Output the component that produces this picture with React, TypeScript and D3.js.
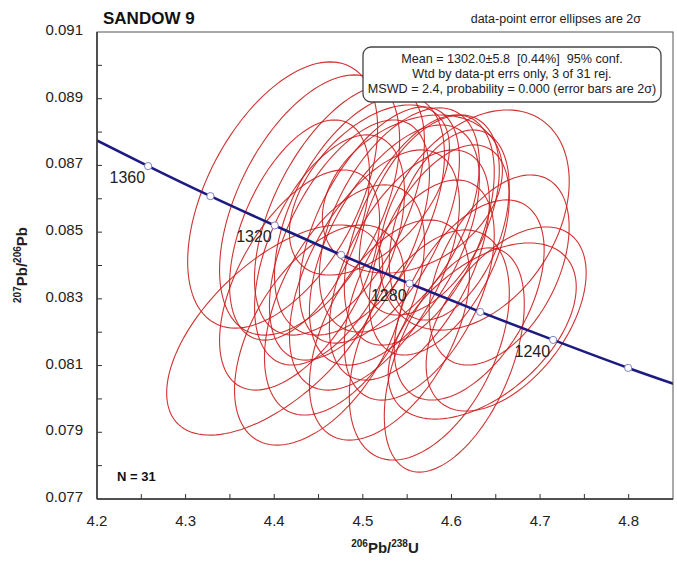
import React from "react";
import * as d3 from "d3";

// ---- data (Isoplot-style: x, 2σx, y, 2σy, rho) ----
const ellX = [4.4095, 4.4399, 4.4736, 4.4962, 4.5187, 4.5412, 4.5637, 4.5356, 4.4849, 4.575, 4.5074, 4.5863, 4.5525, 4.4624, 4.5975, 4.4286, 4.5131, 4.5637, 4.6257, 4.5559, 4.6617, 4.6347, 4.6538, 4.6032, 4.575, 4.53, 4.62, 4.4005, 4.4511, 4.4793, 4.4286];
const ellSX = [0.1072, 0.1016, 0.0959, 0.0959, 0.0903, 0.0903, 0.0846, 0.0959, 0.0903, 0.079, 0.0903, 0.079, 0.0903, 0.0846, 0.0677, 0.079, 0.0959, 0.0846, 0.1072, 0.1016, 0.0903, 0.1061, 0.079, 0.079, 0.0903, 0.0903, 0.0846, 0.1219, 0.0959, 0.0903, 0.0903];
const ellY = [0.086113, 0.085814, 0.085664, 0.085514, 0.085214, 0.085364, 0.085064, 0.084614, 0.084764, 0.085514, 0.086263, 0.084465, 0.084015, 0.084465, 0.085214, 0.085064, 0.083865, 0.083265, 0.085364, 0.086143, 0.082396, 0.082036, 0.083865, 0.081167, 0.081617, 0.082066, 0.082966, 0.082066, 0.081916, 0.082966, 0.083565];
const ellSY = [0.00399, 0.0039, 0.00375, 0.0036, 0.00354, 0.00336, 0.00345, 0.0036, 0.0036, 0.003, 0.00255, 0.00315, 0.00345, 0.00345, 0.00285, 0.0033, 0.0036, 0.0033, 0.0033, 0.00237, 0.00276, 0.00264, 0.00285, 0.00336, 0.00345, 0.0033, 0.003, 0.00315, 0.0033, 0.00345, 0.0033];
const ellRho = [0.5, 0.5, 0.55, 0.5, 0.55, 0.5, 0.5, 0.55, 0.55, 0.45, 0.5, 0.5, 0.55, 0.5, 0.4, 0.5, 0.55, 0.5, 0.35, 0.3, 0.5, 0.5, 0.45, 0.5, 0.45, 0.5, 0.5, 0.6, 0.5, 0.5, 0.55];

// concordia curve (age in Ma, x, y)
const concAges = [1380, 1360, 1340, 1320, 1300, 1280, 1260, 1240, 1220, 1200];
const concX = [4.1892, 4.2577, 4.328, 4.4006, 4.4755, 4.5527, 4.6324, 4.7147, 4.7994, 4.8876];
const concY = [0.08789, 0.08698, 0.08608, 0.0852, 0.08432, 0.08346, 0.08261, 0.08177, 0.08093, 0.08012];
const markerAges = [1360, 1340, 1320, 1300, 1280, 1260, 1240, 1220];
const labelAges = [1360, 1320, 1280, 1240];

const xTickLabels = [4.2, 4.3, 4.4, 4.5, 4.6, 4.7, 4.8];
const yTickLabels = [0.077, 0.079, 0.081, 0.083, 0.085, 0.087, 0.089, 0.091];

const FONT = "'Liberation Sans', Arial, sans-serif";
const NB = "\u00a0";

export default function App() {
  const W = 677, H = 563;
  const L = 97, R = 673, T = 32, B = 499;
  const x = d3.scaleLinear().domain([4.2, 4.85]).range([L, R]);
  const y = d3.scaleLinear().domain([0.077, 0.091]).range([B, T]);

  const xMinor = d3.range(0, 13).map((i) => 4.2 + i * 0.05).filter((v) => v > 4.2 + 1e-9 && v < 4.85 - 1e-9);
  const yMinor = d3.range(0, 15).map((i) => 0.077 + i * 0.001).filter((v) => v > 0.077 + 1e-9 && v < 0.091 - 1e-9);

  const ellLine = d3.line<[number, number]>().x((d) => x(d[0])).y((d) => y(d[1])).curve(d3.curveLinearClosed);
  const thetas = d3.range(0, 120).map((i) => (i / 120) * Math.PI * 2);
  const ellipses = ellX.map((cx, i) => {
    const sx = ellSX[i], sy = ellSY[i], r = ellRho[i];
    const pts: [number, number][] = thetas.map((t) => [
      cx + sx * Math.cos(t),
      ellY[i] + sy * (r * Math.cos(t) + Math.sqrt(1 - r * r) * Math.sin(t)),
    ]);
    return ellLine(pts) as string;
  });

  const concPts: [number, number][] = concX.map((v, i) => [v, concY[i]]);
  const concPath = d3.line<[number, number]>().x((d) => x(d[0])).y((d) => y(d[1])).curve(d3.curveNatural)(concPts) as string;

  const idx = (a: number) => concAges.indexOf(a);

  return (
    <svg width={W} height={H} style={{ position: "absolute", left: 0, top: 0, background: "#fff" }} fontFamily={FONT}>
      <defs>
        <clipPath id="plotclip">
          <rect x={L} y={T} width={R - L} height={B - T} />
        </clipPath>
      </defs>
      <rect x={0} y={0} width={W} height={H} fill="#fff" />

      {/* ellipses */}
      <g clipPath="url(#plotclip)">
        {ellipses.map((d, i) => (
          <path key={i} d={d} fill="none" stroke="#cc1c1c" strokeWidth={1.1} strokeOpacity={0.9} />
        ))}
        {/* concordia */}
        <path d={concPath} fill="none" stroke="#1b1b82" strokeWidth={2.6} />
        {markerAges.map((a) => (
          <circle key={a} cx={x(concX[idx(a)])} cy={y(concY[idx(a)])} r={3.6} fill="#fff" stroke="#8080c0" strokeWidth={1} />
        ))}
      </g>
      {labelAges.map((a) => (
        <text key={a} x={x(concX[idx(a)]) - 3} y={y(concY[idx(a)]) + 17} textAnchor="end" fontSize={16} fill="#222">
          {a}
        </text>
      ))}

      {/* frame */}
      <rect x={L} y={T} width={R - L} height={B - T} fill="none" stroke="#555" strokeWidth={1} />
      <line x1={L} y1={T} x2={L} y2={B} stroke="#333" strokeWidth={1.5} />
      <line x1={L} y1={B} x2={R} y2={B} stroke="#333" strokeWidth={1.5} />

      {/* ticks */}
      {xMinor.map((v, i) => (
        <line key={"xt" + i} x1={x(v)} x2={x(v)} y1={B} y2={B - 5} stroke="#333" strokeWidth={1} />
      ))}
      {yMinor.map((v, i) => (
        <line key={"yt" + i} x1={L} x2={L + 5} y1={y(v)} y2={y(v)} stroke="#333" strokeWidth={1} />
      ))}
      {xTickLabels.map((v) => (
        <text key={"xl" + v} x={x(v)} y={B + 27} textAnchor="middle" fontSize={15} fill="#222">
          {v.toFixed(1)}
        </text>
      ))}
      {yTickLabels.map((v) => (
        <text key={"yl" + v} x={L - 14} y={y(v) + 3} textAnchor="end" fontSize={15} fill="#222">
          {v.toFixed(3)}
        </text>
      ))}

      {/* axis titles */}
      <text x={385} y={553} textAnchor="middle" fontSize={15} fontWeight="bold" fill="#222">
        <tspan fontSize={10} dy={-6}>206</tspan>
        <tspan dy={6}>Pb/</tspan>
        <tspan fontSize={10} dy={-6}>238</tspan>
        <tspan dy={6}>U</tspan>
      </text>
      <text transform="translate(27,265) rotate(-90)" textAnchor="middle" fontSize={15} fontWeight="bold" fill="#222">
        <tspan fontSize={10} dy={-6}>207</tspan>
        <tspan dy={6}>Pb/</tspan>
        <tspan fontSize={10} dy={-6}>206</tspan>
        <tspan dy={6}>Pb</tspan>
      </text>

      {/* titles */}
      <text x={103} y={24} fontSize={17} fontWeight="bold" fill="#111">SANDOW 9</text>
      <text x={641} y={23} textAnchor="end" fontSize={12.5} fill="#222">data-point error ellipses are 2σ</text>
      <text x={117} y={481} fontSize={13} fontWeight="bold" fill="#111">N = 31</text>

      {/* info box */}
      <rect x={363} y={47} width={298} height={55} rx={8} ry={8} fill="#fff" stroke="#444" strokeWidth={1.3} />
      <g fontSize={12.6} fill="#222" textAnchor="middle">
        <text x={512} y={63}>{`Mean = 1302.0±5.8 ${NB}[0.44%] ${NB}95% conf.`}</text>
        <text x={512} y={78}>Wtd by data-pt errs only, 3 of 31 rej.</text>
        <text x={512} y={93}>MSWD = 2.4, probability = 0.000 (error bars are 2σ)</text>
      </g>
    </svg>
  );
}
